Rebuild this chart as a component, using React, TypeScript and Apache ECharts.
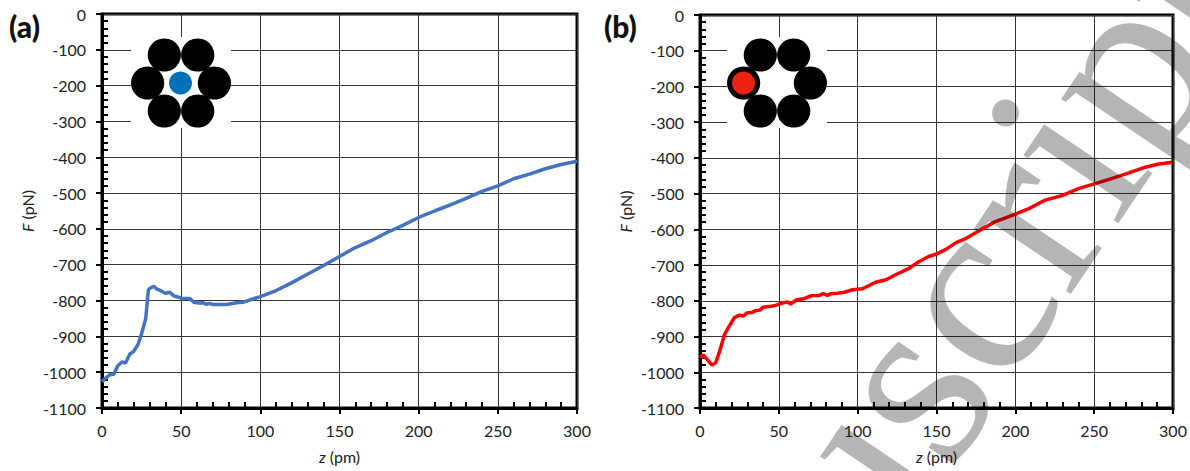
import React, { useEffect, useRef } from "react";
import * as echarts from "echarts";

const zA = [0,2.7,5,7.4,10,12.7,14.8,17.5,20,22.8,25,27.6,29.3,30.6,32.7,35,37.5,40,42.8,45.4,47.7,50.2,55.5,58,60.8,64,66,67.7,70,78.7,85,89,95.6,100,110,120,130,140,150,160,170,180,190,200,210,220,230,240,250,260,270,280,290,300];
const fA = [-1027,-1015,-1007,-1006,-982,-971,-975,-950,-942,-922,-893,-851,-770,-765,-760,-769,-773,-780,-777,-787,-790,-794,-794,-805,-807,-806,-811,-808,-811,-811,-806,-805,-795,-789,-772,-750,-726,-702,-677,-652,-633,-610,-590,-568,-550,-533,-515,-495,-480,-460,-447,-432,-420,-411];
const zB = [0,2,4.9,7.6,10,12.7,15.4,18,21.8,25,27.5,29.6,32.8,35,38,40,45,48,52.4,55.6,57.5,61.3,66,70.4,75.7,78.2,80.8,83,87.3,91.5,96.8,103,105,111.4,118,124,132.6,139,145,150,156,162.4,168.8,177,187,198,208.6,219,230,240,250.6,261,272,282.5,291,299.6];
const fB = [-958,-951,-966,-980,-973,-938,-896,-875,-847,-840,-843,-834,-833,-828,-826,-818,-815,-813,-806,-803,-809,-797,-794,-786,-785,-780,-785,-780,-779,-776,-769,-766,-762,-748,-741,-727,-709,-690,-676,-669,-656,-637,-625,-604,-579,-561,-542,-518,-505,-486,-472,-458,-442,-426,-417,-412];

const FONT = "Lato";
const textColor = "#222";
const rich = { i: { fontStyle: "italic" as const, fontFamily: FONT, fontSize: 16, color: textColor }, n: { fontFamily: FONT, fontSize: 16, color: textColor } };
const fmt = (v: number) => String(v);

function xAxis(gridIndex: number) {
  return {
    type: "value", gridIndex, min: 0, max: 300, interval: 50,
    name: "{i|z}{n| (pm)}", nameLocation: "middle", nameGap: 40, nameTextStyle: { rich },
    axisLine: { show: true, onZero: false, lineStyle: { color: "#000", width: 3 } },
    axisTick: { show: true, inside: false, length: 6, lineStyle: { color: "#000", width: 2 } },
    minorTick: { show: true, splitNumber: 5, length: -6, lineStyle: { color: "#000", width: 2 } },
    splitLine: { show: true, lineStyle: { color: "#333", width: 1 } },
    axisLabel: { fontFamily: FONT, fontSize: 16, color: textColor, margin: 14, formatter: fmt, showMinLabel: true, showMaxLabel: true },
  };
}
function yAxis(gridIndex: number) {
  return {
    type: "value", gridIndex, min: -1100, max: 0, interval: 100,
    name: "{i|F}{n| (pN)}", nameLocation: "middle", nameGap: 67, nameRotate: 90, nameTextStyle: { rich },
    axisLine: { show: true, onZero: false, lineStyle: { color: "#000", width: 3 } },
    axisTick: { show: true, inside: false, length: 6, lineStyle: { color: "#000", width: 2 } },
    minorTick: { show: true, splitNumber: 5, length: -6, lineStyle: { color: "#000", width: 2 } },
    splitLine: { show: true, lineStyle: { color: "#333", width: 1 } },
    axisLabel: { fontFamily: FONT, fontSize: 16, color: textColor, margin: 16, formatter: fmt, showMinLabel: true, showMaxLabel: true },
  };
}
const pairs = (a: number[], b: number[]) => a.map((v, i) => [v, b[i]]);

function ringGroup(cx: number, fill: string, holeX: number, holeR: number) {
  const cy = 83;
  const spots = [[-16.7, -28], [16.7, -28], [-33.4, 0], [33.4, 0], [-16.7, 28], [16.7, 28]];
  const out: any[] = [
    { type: "rect", z: 20, shape: { x: cx - 50, y: 37, width: 100, height: 91 }, style: { fill: "#fff" } },
  ];
  spots.forEach(([dx, dy]) => out.push({ type: "circle", z: 21, shape: { cx: cx + dx, cy: cy + dy, r: 16.6 }, style: { fill: "#000" } }));
  out.push({ type: "circle", z: 22, shape: { cx: holeX, cy, r: holeR }, style: { fill } });
  return out;
}

export default function App() {
  const ref = useRef<HTMLDivElement>(null);
  useEffect(() => {
    document.body.style.margin = "0";
    const chart = echarts.init(ref.current!, null, { renderer: "svg" });
    chart.setOption({
      animation: false,
      backgroundColor: "#fff",
      grid: [
        { left: 102, top: 14, width: 475, height: 394, show: true, borderColor: "#000", borderWidth: 3, backgroundColor: "transparent" },
        { left: 700, top: 15, width: 473, height: 393, show: true, borderColor: "#000", borderWidth: 3, backgroundColor: "transparent" },
      ],
      xAxis: [xAxis(0), xAxis(1)],
      yAxis: [yAxis(0), yAxis(1)],
      series: [
        { type: "line", xAxisIndex: 0, yAxisIndex: 0, data: pairs(zA, fA), showSymbol: false, clip: false, lineStyle: { color: "#4472C4", width: 3.5 } },
        { type: "line", xAxisIndex: 1, yAxisIndex: 1, data: pairs(zB, fB), showSymbol: false, clip: false, lineStyle: { color: "#FF0000", width: 3.5 } },
      ],
      graphic: [
        { type: "text", x: 9, y: 11, z: 30, style: { text: "(a)", fontFamily: FONT, fontWeight: 900, fontSize: 30, fill: "#111" } },
        { type: "text", x: 604, y: 11, z: 30, style: { text: "(b)", fontFamily: FONT, fontWeight: 900, fontSize: 30, fill: "#111" } },
        ...ringGroup(181, "#0070B8", 180.5, 11.5),
        ...ringGroup(777, "#EE2211", 743.5, 11.5),
        {
          type: "text", x: 870, y: 438, rotation: (56 * Math.PI) / 180, z: 40, silent: true,
          style: { text: "Manuscript", fontFamily: "Liberation Serif", fontSize: 255, fill: "rgba(0,0,0,0.29)", textAlign: "center", textVerticalAlign: "middle" },
        },
      ],
    });
    return () => chart.dispose();
  }, []);
  return <div ref={ref} style={{ width: 1190, height: 471 }} />;
}
